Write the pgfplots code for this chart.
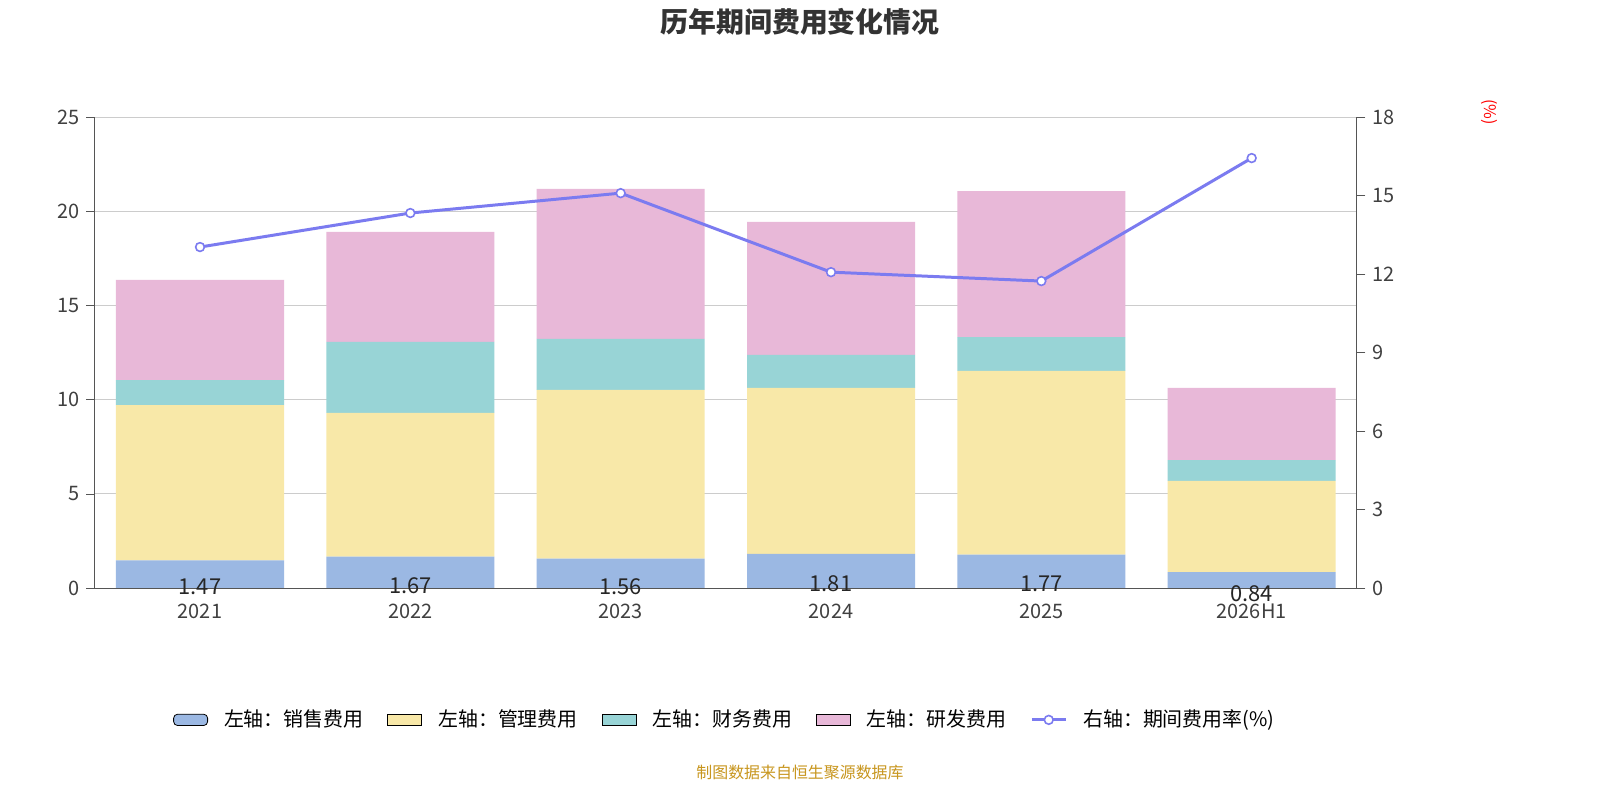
\documentclass[border=0pt]{standalone}
\usepackage{pgfplots}
\pgfplotsset{compat=1.18}
\usepackage{fontspec}
\setmainfont{Noto Sans CJK SC}
\definecolor{cs}{HTML}{9BB8E3}
\definecolor{cm}{HTML}{F8E8A8}
\definecolor{cf}{HTML}{98D4D6}
\definecolor{cr}{HTML}{E8B8D8}
\definecolor{cl}{HTML}{7B7BF0}
\definecolor{ax}{HTML}{555555}
\begin{document}
\begin{tikzpicture}
\path[use as bounding box,fill=white] (0,0) rectangle (800bp,400bp);
\node[font=\bfseries\fontsize{14}{16}\selectfont,text=black!80] at (400bp,389bp) {历年期间费用变化情况};
\node[font=\fontsize{8}{10}\selectfont,text={rgb,255:red,200;green,150;blue,30}] at (400bp,13.5bp) {制图数据来自恒生聚源数据库};
\begin{axis}[at={(100bp,106bp)},anchor=origin,scale only axis,width=631bp,height=235.5bp,
  xmin=-0.5,xmax=5.5,ymin=0,ymax=25,ytick={0,5,...,25},
  xtick={0,...,5},xticklabels={2021,2022,2023,2024,2025,2026H1},
  major x tick style={draw=none},
  extra x ticks={-0.5,0.5,...,5.5},extra x tick labels={},
  extra x tick style={tick style={draw=ax},major tick length=4bp},
  tick align=outside,
  axis y line*=left,axis x line*=bottom,
  axis line style={draw=ax},y tick style={draw=ax},
  ymajorgrids,grid style={draw=black!20},
  ybar stacked,bar width=84bp,
  tick label style={font=\fontsize{10}{12}\selectfont,text=black!75},
  /pgf/number format/assume math mode=true,
  clip=false]
\addplot[fill=cs,draw=none,nodes near coords,point meta=explicit symbolic,
  every node near coord/.style={anchor=north,yshift=1bp,font=\fontsize{11}{13}\selectfont,text=black!85}]
  coordinates {(0,1.47)[1.47] (1,1.67)[1.67] (2,1.56)[1.56] (3,1.81)[1.81] (4,1.77)[1.77] (5,0.84)[0.84]};
\addplot[fill=cm,draw=none] coordinates {(0,8.24) (1,7.62) (2,8.95) (3,8.81) (4,9.75) (5,4.84)};
\addplot[fill=cf,draw=none] coordinates {(0,1.33) (1,3.77) (2,2.71) (3,1.75) (4,1.80) (5,1.11)};
\addplot[fill=cr,draw=none] coordinates {(0,5.31) (1,5.84) (2,7.96) (3,7.06) (4,7.75) (5,3.83)};
\node[rotate=90,text=red,font=\fontsize{8}{10}\selectfont] at (rel axis cs:-0.095,0.95) {(亿元)};
\end{axis}
\begin{axis}[at={(100bp,106bp)},anchor=origin,scale only axis,width=631bp,height=235.5bp,
  xmin=-0.5,xmax=5.5,ymin=0,ymax=18,ytick={0,3,...,18},
  axis y line*=right,axis x line=none,
  axis line style={draw=ax},y tick style={draw=ax},tick align=outside,
  tick label style={font=\fontsize{10}{12}\selectfont,text=black!75},
  /pgf/number format/assume math mode=true,clip=false,
  legend columns=5,legend style={at={(0.5,-0.28)},anchor=center,draw=none,
    font=\fontsize{10}{12}\selectfont,column sep=6bp,/tikz/every even column/.append style={column sep=10bp}},
  legend cell align=left]
\addlegendimage{area legend,fill=cs,draw=none,rounded corners=2bp}
\addlegendentry{左轴：销售费用}
\addlegendimage{area legend,fill=cm,draw=none}
\addlegendentry{左轴：管理费用}
\addlegendimage{area legend,fill=cf,draw=none}
\addlegendentry{左轴：财务费用}
\addlegendimage{area legend,fill=cr,draw=none}
\addlegendentry{左轴：研发费用}
\addplot[cl,line width=1.5pt,mark=*,mark size=2.2pt,mark options={fill=white,line width=0.8pt}]
  coordinates {(0,13.03) (1,14.33) (2,15.09) (3,12.07) (4,11.73) (5,16.43)};
\addlegendentry{右轴：期间费用率(\%)}
\node[rotate=-90,text=red,font=\fontsize{8}{10}\selectfont] at (rel axis cs:1.105,1.01) {(\%)};
\end{axis}
\end{tikzpicture}
\end{document}
